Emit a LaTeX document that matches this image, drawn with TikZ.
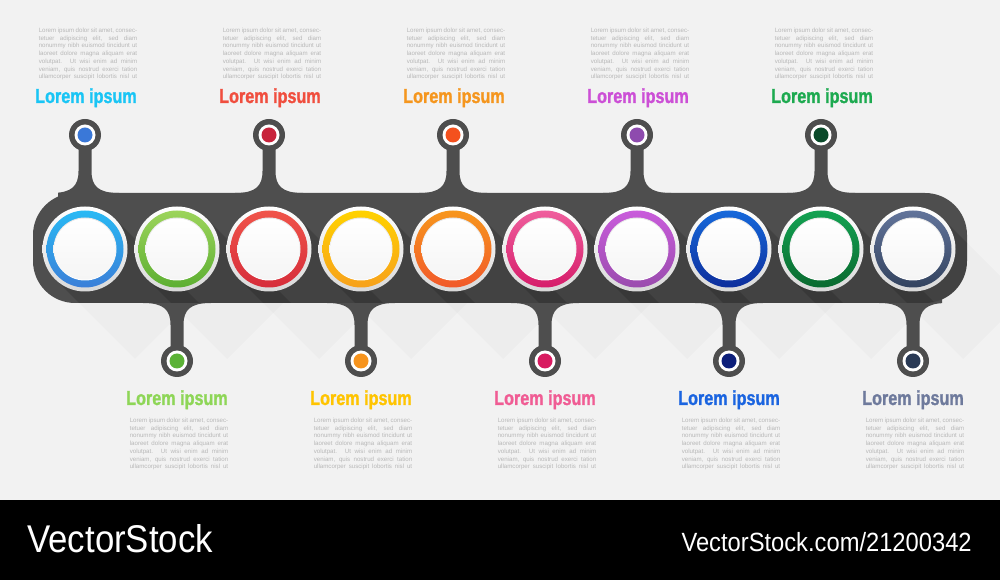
\documentclass[tikz,border=0pt]{standalone}
\usepackage{fontspec}
\setmainfont{Liberation Sans}
\newfontfamily\headfont{Liberation Sans}[FakeStretch=0.8,FakeBold=1.2]
\newfontfamily\barfont{Liberation Sans}[FakeStretch=0.9]

\definecolor{bggray}{HTML}{F2F2F2}
\definecolor{bandgray}{HTML}{4E4E4E}
\definecolor{paragray}{HTML}{B8B8B8}
% ring colours (top / bottom of each ring)
\definecolor{rt1}{HTML}{29B9F4}\definecolor{rb1}{HTML}{3B7FD8}
\definecolor{rt2}{HTML}{9CD45B}\definecolor{rb2}{HTML}{5DAF32}
\definecolor{rt3}{HTML}{F0544A}\definecolor{rb3}{HTML}{D62D3A}
\definecolor{rt4}{HTML}{FFD200}\definecolor{rb4}{HTML}{F7A11C}
\definecolor{rt5}{HTML}{F7961D}\definecolor{rb5}{HTML}{F1592A}
\definecolor{rt6}{HTML}{EF5E9D}\definecolor{rb6}{HTML}{D61D6A}
\definecolor{rt7}{HTML}{C95CDB}\definecolor{rb7}{HTML}{9A4CAE}
\definecolor{rt8}{HTML}{1668DA}\definecolor{rb8}{HTML}{0D2E9C}
\definecolor{rt9}{HTML}{13A252}\definecolor{rb9}{HTML}{0A6A30}
\definecolor{rt10}{HTML}{62749A}\definecolor{rb10}{HTML}{33435F}
% knob dots
\definecolor{dot1}{HTML}{3A78D8}\definecolor{dot2}{HTML}{5BB236}
\definecolor{dot3}{HTML}{C8243C}\definecolor{dot4}{HTML}{F7941D}
\definecolor{dot5}{HTML}{F4511E}\definecolor{dot6}{HTML}{D81B60}
\definecolor{dot7}{HTML}{8E4BAE}\definecolor{dot8}{HTML}{0D1F7A}
\definecolor{dot9}{HTML}{0A4A2A}\definecolor{dot10}{HTML}{2A3A55}
% headline colours
\definecolor{lab1}{HTML}{19C5F5}\definecolor{lab2}{HTML}{8ED657}
\definecolor{lab3}{HTML}{F04E3E}\definecolor{lab4}{HTML}{FFC400}
\definecolor{lab5}{HTML}{F5961E}\definecolor{lab6}{HTML}{F05C94}
\definecolor{lab7}{HTML}{CC4FD6}\definecolor{lab8}{HTML}{1A64E0}
\definecolor{lab9}{HTML}{1DAA50}\definecolor{lab10}{HTML}{6E7A9C}

\newcommand\pline[1]{\makebox[56pt][s]{#1}}
\newcommand\loremtext{%
  \pline{Lorem ipsum dolor sit amet, consec-}\\
  \pline{tetuer adipiscing elit, sed diam}\\
  \pline{nonummy nibh euismod tincidunt ut}\\
  \pline{laoreet dolore magna aliquam erat}\\
  \pline{volutpat. Ut wisi enim ad minim}\\
  \pline{veniam, quis nostrud exerci tation}\\
  \pline{ullamcorper suscipit lobortis nisl ut}}

\tikzset{
  headline/.style={font=\headfont\bfseries\fontsize{11.5}{11.5}\selectfont, inner sep=0pt, anchor=base},
  bodytext/.style={font=\fontsize{3.5}{4.4}\selectfont, text=paragray, align=left, inner sep=0pt},
  knobstem/.style={fill=bandgray},
  bandshape/.style={rounded corners=8.4mm},
}

\begin{document}
\begin{tikzpicture}[x=0.2mm,y=-0.2mm]
    \useasboundingbox (0,0) rectangle (1000,580);

    % Background
    \fill[bggray] (0,0) rectangle (1000,500);

    % Long shadows on the background
    \foreach \i in {1,...,10} {
        \pgfmathsetmacro\cx{85+92*(\i-1)}
        \fill[black,opacity=0.02] (\cx+30,219) -- ++(80,80) -- ++(-60,60) -- (\cx-30,279) -- cycle;
    }

    % Draw band
    \fill[bandgray,bandshape] (33,193) rectangle (967,303);

    % Draw stems and knobs
    \begin{scope}
        \clip (58,0) rectangle (942,500);
        \foreach \i/\s in {1/1,2/-1,3/1,4/-1,5/1,6/-1,7/1,8/-1,9/1,10/-1} {
            \pgfmathsetmacro\cx{85+92*(\i-1)}
            \begin{scope}[shift={(\cx,248)},yscale=\s]
                \fill[knobstem] (-34,-55) .. controls (-13,-55) and (-6.5,-62) .. (-6.5,-77)
                    -- (-6.5,-110) -- (6.5,-110) -- (6.5,-77)
                    .. controls (6.5,-62) and (13,-55) .. (34,-55) -- (34,-48) -- (-34,-48) -- cycle;
                \fill[bandgray] (0,-113) circle[radius=16];
                \fill[white] (0,-113) circle[radius=10.5];
                \fill[dot\i] (0,-113) circle[radius=7.5];
            \end{scope}
        }
    \end{scope}

    % Shadows of the circles on the band
    \begin{scope}
        \clip[bandshape] (33,193) rectangle (967,303);
        \foreach \i in {1,...,10} {
            \pgfmathsetmacro\cx{85+92*(\i-1)}
            \fill[black,opacity=0.14] (\cx+30,219) -- ++(120,120) -- ++(-60,60) -- (\cx-30,279) -- cycle;
        }
    \end{scope}

    % Draw circles
    \foreach \i in {1,...,10} {
        \pgfmathsetmacro\cx{85+92*(\i-1)}
        \shade[top color=white,bottom color=gray!30] (\cx,249) circle[radius=42.5];
        \shade[top color=rt\i,bottom color=rb\i] (\cx,249) circle[radius=38.5];
        \shade[top color=gray!20,bottom color=white] (\cx,249) circle[radius=31.5];
        \shade[top color=white,bottom color=gray!8] (\cx,249) circle[radius=30.5];
    }

    % Headlines and texts above
    \foreach \i in {1,3,5,7,9} {
        \pgfmathsetmacro\cx{85+92*(\i-1)}
        \node[headline,text=lab\i] (head\i) at (\cx+1,103) {Lorem ipsum};
        \node[bodytext] (text\i) at (\cx+3,54) {\loremtext};
    }

    % Headlines and texts below
    \foreach \i in {2,4,6,8,10} {
        \pgfmathsetmacro\cx{85+92*(\i-1)}
        \node[headline,text=lab\i] (head\i) at (\cx,405) {Lorem ipsum};
        \node[bodytext] (text\i) at (\cx+2,444) {\loremtext};
    }

    % Bottom bar
    \fill[black] (0,500) rectangle (1000,580);
    \node[font=\barfont\fontsize{22}{22}\selectfont,text=white,anchor=base west,inner sep=0pt] (brand) at (27,552) {VectorStock};
    \node[font=\barfont\fontsize{15}{15}\selectfont,text=white,anchor=base east,inner sep=0pt] (link) at (972,551) {VectorStock.com/21200342};
\end{tikzpicture}
\end{document}
